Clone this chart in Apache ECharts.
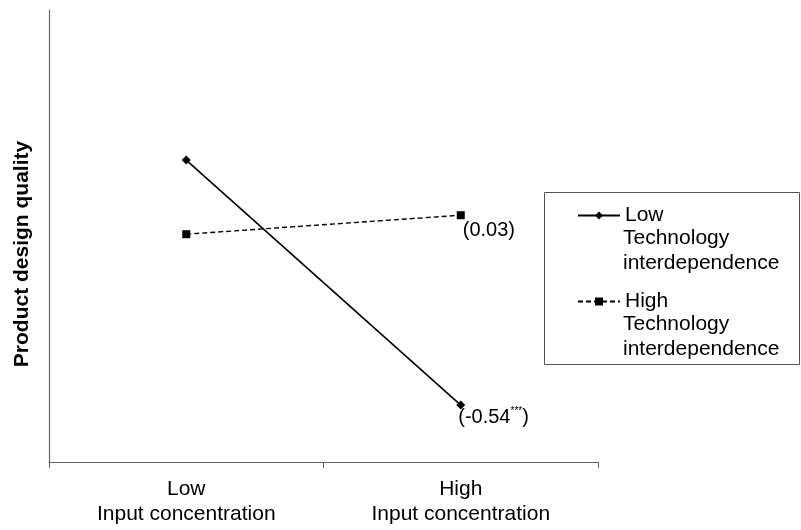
<!DOCTYPE html>
<html><head><meta charset="utf-8">
<script src="https://cdn.jsdelivr.net/npm/echarts@6/dist/echarts.min.js"></script>
<style>html,body{margin:0;padding:0;background:#fff}#c{width:801px;height:530px}</style>
</head><body><div id="c"></div>
<script>
var categories = ['Low\nInput concentration', 'High\nInput concentration'];
var lowTech = [66.8, 12.6];
var highTech = [50.4, 54.6];
var lowTechLabel = '(-0.54{s|***})';
var highTechLabel = '(0.03)';
var FONT = '"Liberation Sans", Arial, sans-serif';

function build(vals, lastLabel, pos) {
  return vals.map(function (v, i) {
    if (i === vals.length - 1) {
      return { value: v, label: { show: true, formatter: lastLabel, position: pos, align: 'left', verticalAlign: 'middle',
        fontSize: 20, color: '#000', fontFamily: FONT, rich: { s: { fontSize: 10, verticalAlign: 'top', padding: [0, 0, 12, 0], color: '#000', fontFamily: FONT } } } };
    }
    return v;
  });
}

var chart = echarts.init(document.getElementById('c'));
chart.setOption({
  animation: false,
  grid: { left: 49, right: 203, top: 10, bottom: 68 },
  xAxis: {
    type: 'category', data: categories, boundaryGap: true,
    axisLine: { lineStyle: { color: '#666', width: 1.2 } },
    axisTick: { show: true, length: 6, lineStyle: { color: '#666' } },
    axisLabel: { fontSize: 21, lineHeight: 25, color: '#000', fontFamily: FONT, margin: 15 }
  },
  yAxis: {
    type: 'value', min: 0, max: 100,
    axisLine: { show: true, lineStyle: { color: '#666', width: 1.2 } },
    axisTick: { show: false }, axisLabel: { show: false }, splitLine: { show: false }
  },
  legend: [
    { data: ['Low'], orient: 'vertical', left: 577, top: 205, padding: 0, itemWidth: 42, itemHeight: 10, itemGap: 0,
      textStyle: { fontSize: 21, color: '#000', fontFamily: FONT } },
    { data: ['High'], orient: 'vertical', left: 577, top: 291, padding: 0, itemWidth: 42, itemHeight: 10, itemGap: 0,
      textStyle: { fontSize: 21, color: '#000', fontFamily: FONT } }
  ],
  graphic: [
    { type: 'rect', shape: { x: 544.5, y: 192.5, width: 255, height: 172 }, style: { fill: 'none', stroke: '#555', lineWidth: 1 } },
    { type: 'text', left: 623, top: 226, style: { text: 'Technology\ninterdependence', fontSize: 21, lineHeight: 25, fill: '#000', fontFamily: FONT } },
    { type: 'text', left: 623, top: 312, style: { text: 'Technology\ninterdependence', fontSize: 21, lineHeight: 25, fill: '#000', fontFamily: FONT } },
    { type: 'text', x: 22, y: 254, rotation: Math.PI / 2, style: { text: 'Product design quality', fontSize: 21, fontWeight: 'bold', fill: '#000', align: 'center', verticalAlign: 'middle', fontFamily: FONT } }
  ],
  series: [
    { name: 'Low', type: 'line', data: build(lowTech, lowTechLabel, [2, 17]), symbol: 'diamond', symbolSize: 9,
      lineStyle: { color: '#000', width: 1.6, type: 'solid' }, itemStyle: { color: '#000' } },
    { name: 'High', type: 'line', data: build(highTech, highTechLabel, [6, 19]), symbol: 'rect', symbolSize: 8,
      lineStyle: { color: '#000', width: 1.4, type: [5, 3] }, itemStyle: { color: '#000' } }
  ]
});
</script></body></html>
